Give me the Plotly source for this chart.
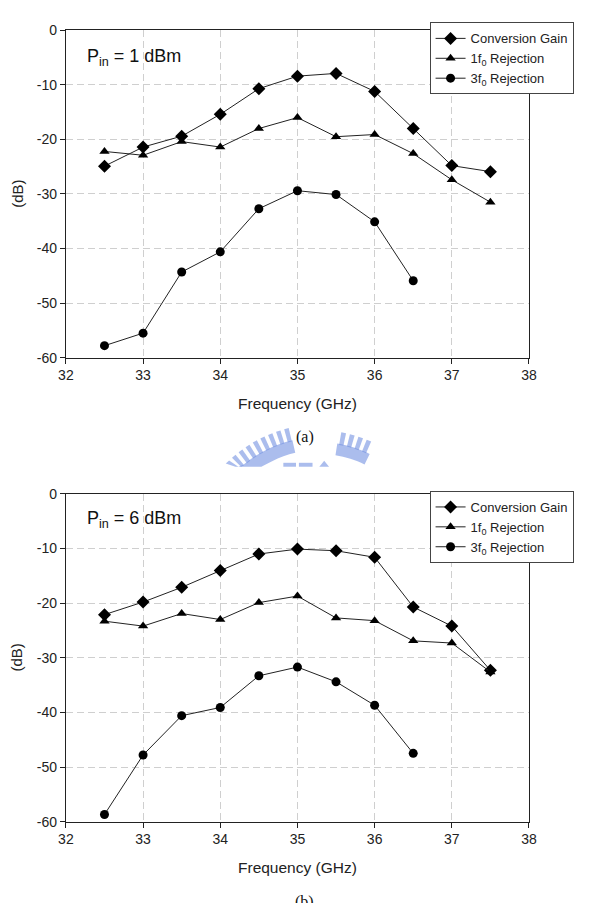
import math
import plotly.graph_objects as go

W, H = 591, 903

freq = [32.5, 33.0, 33.5, 34.0, 34.5, 35.0, 35.5, 36.0, 36.5, 37.0, 37.5]
freq_3f0 = [32.5, 33.0, 33.5, 34.0, 34.5, 35.0, 35.5, 36.0, 36.5]

# (a) Pin = 1 dBm
gain_a = [-24.9, -21.4, -19.4, -15.4, -10.7, -8.4, -7.9, -11.2, -18.0, -24.8, -25.9]
rej1_a = [-22.2, -22.9, -20.4, -21.4, -18.0, -16.0, -19.5, -19.1, -22.6, -27.4, -31.5]
rej3_a = [-57.8, -55.5, -44.3, -40.6, -32.7, -29.4, -30.1, -35.1, -45.9]

# (b) Pin = 6 dBm
gain_b = [-22.1, -19.8, -17.1, -14.0, -11.0, -10.1, -10.4, -11.6, -20.7, -24.2, -32.3]
rej1_b = [-23.3, -24.2, -21.9, -23.0, -19.9, -18.7, -22.7, -23.2, -26.9, -27.3, -32.6]
rej3_b = [-58.7, -47.8, -40.6, -39.1, -33.3, -31.7, -34.4, -38.7, -47.5]

names = ["Conversion Gain", "1f<sub>0</sub> Rejection", "3f<sub>0</sub> Rejection"]
symbols = ["diamond", "triangle-up", "circle"]
msizes = [10, 9, 9]
x_ticks = [32, 33, 34, 35, 36, 37, 38]
x_ticktext = ["32", "33", "34", "35", "36", "37", "38"]
y_ticks = [0, -10, -20, -30, -40, -50, -60]
y_ticktext = ["0", "-10", "-20", "-30", "-40", "-50", "-60"]


def px(x):
    return x / W


def py(y):
    return 1 - y / H


fig = go.Figure()

panels = [
    ("x", "y", "legend", [gain_a, rej1_a, rej3_a]),
    ("x2", "y2", "legend2", [gain_b, rej1_b, rej3_b]),
]
for xa, ya, lg, series in panels:
    for i, vals in enumerate(series):
        xs = freq if i < 2 else freq_3f0
        fig.add_trace(go.Scatter(
            x=xs, y=vals, name=names[i], mode="lines+markers",
            xaxis=xa, yaxis=ya, legend=lg,
            line=dict(color="#222222", width=1),
            marker=dict(symbol=symbols[i], size=msizes[i], color="black"),
        ))

font_main = "Liberation Sans, Arial, sans-serif"
axis_common = dict(
    showline=True, linecolor="#222222", linewidth=1, mirror=True,
    ticks="outside", ticklen=5, tickcolor="#222222",
    showgrid=True, gridcolor="#cfcfcf", griddash="7px,4px", gridwidth=1,
    zeroline=False, tickmode="array",
    tickfont=dict(family=font_main, size=14, color="#222222"),
)

xdom = [px(59.5), px(535.5)]
top_dom = [py(356), py(22.7)]
bot_dom = [py(828.3), py(494.7)]

xa_kw = dict(range=[32, 38], tickvals=x_ticks, ticktext=x_ticktext, **axis_common)
ya_kw = dict(range=[-60, 0], tickvals=y_ticks, ticktext=y_ticktext, **axis_common)
leg_kw = dict(
    xanchor="left", yanchor="top",
    bgcolor="white", bordercolor="#444444", borderwidth=1,
    font=dict(family=font_main, size=13, color="#222222"),
    tracegroupgap=0, itemwidth=30,
)

fig.update_layout(
    width=W, height=H,
    margin=dict(l=0, r=0, t=0, b=0),
    paper_bgcolor="white", plot_bgcolor="white",
    showlegend=True,
    xaxis=dict(domain=xdom, anchor="y", **xa_kw),
    yaxis=dict(domain=top_dom, anchor="x", **ya_kw),
    xaxis2=dict(domain=xdom, anchor="y2", **xa_kw),
    yaxis2=dict(domain=bot_dom, anchor="x2", **ya_kw),
    legend=dict(x=px(433.3), y=py(14.7), **leg_kw),
    legend2=dict(x=px(433.3), y=py(491.7), **leg_kw),
)

ann = []
for (ycen, label_y, pin, cap_y) in [
    (189.4, 403, "1", 50), (661.5, 875, "6", 521)
]:
    ann.append(dict(text="(dB)", x=px(9), y=py(ycen), xref="paper", yref="paper",
                    xanchor="center", yanchor="middle",
                    textangle=-90, showarrow=False,
                    font=dict(family=font_main, size=15, color="#222222")))
    ann.append(dict(text="Frequency (GHz)", x=px(297.5), y=py(label_y), xref="paper", yref="paper",
                    xanchor="center", yanchor="middle",
                    showarrow=False, font=dict(family=font_main, size=15.5, color="#222222")))
    ann.append(dict(text=f"P<sub>in</sub> = {pin} dBm", x=px(79), y=py(cap_y), xref="paper", yref="paper",
                    xanchor="left", yanchor="middle", showarrow=False,
                    font=dict(family=font_main, size=18, color="#111111")))
ann.append(dict(text="(a)", x=px(305), y=py(437), xref="paper", yref="paper", showarrow=False,
                xanchor="center", yanchor="middle",
                font=dict(family="Liberation Serif, Times New Roman, serif", size=16, color="#111111")))
ann.append(dict(text="(b)", x=px(305), y=py(910), xref="paper", yref="paper", showarrow=False,
                xanchor="center", yanchor="middle",
                font=dict(family="Liberation Serif, Times New Roman, serif", size=16, color="#111111")))
fig.update_layout(annotations=ann)

# faint watermark logo (decorative approximation), clipped at y = 467 px
shapes = []
wm = "rgba(115,145,225,0.6)"
cx, cy = 320, 560
YCLIP = 467


def poly(points):
    pts = [(x, min(y, YCLIP)) for x, y in points]
    return "M " + " L ".join(f"{px(x)},{py(y)}" for x, y in pts) + " Z"


def ring_seg(a0, a1, r0, r1, n=6):
    outer = [(cx + r1 * math.cos(math.radians(a0 + (a1 - a0) * t / n)),
              cy + r1 * math.sin(math.radians(a0 + (a1 - a0) * t / n))) for t in range(n + 1)]
    inner = [(cx + r0 * math.cos(math.radians(a1 - (a1 - a0) * t / n)),
              cy + r0 * math.sin(math.radians(a1 - (a1 - a0) * t / n))) for t in range(n + 1)]
    return outer + inner


# left arc: band + teeth
shapes.append(dict(type="path", path=poly(ring_seg(224, 257, 110, 123, 10)),
                   xref="paper", yref="paper", fillcolor=wm, line=dict(width=0), layer="below"))
for k in range(9):
    a = 225 + k * 3.7
    shapes.append(dict(type="path", path=poly(ring_seg(a, a + 2.0, 122, 136, 1)),
                       xref="paper", yref="paper", fillcolor=wm, line=dict(width=0), layer="below"))
# right arc
shapes.append(dict(type="path", path=poly(ring_seg(279, 296, 106, 118, 8)),
                   xref="paper", yref="paper", fillcolor=wm, line=dict(width=0), layer="below"))
for k in range(4):
    a = 280 + k * 4.0
    shapes.append(dict(type="path", path=poly(ring_seg(a, a + 2.2, 117, 130, 1)),
                       xref="paper", yref="paper", fillcolor=wm, line=dict(width=0), layer="below"))
# middle dashes and small triangle
for x0, x1 in [(283, 296), (299, 313)]:
    shapes.append(dict(type="rect", x0=px(x0), x1=px(x1), y0=py(467), y1=py(463),
                       xref="paper", yref="paper", fillcolor=wm, line=dict(width=0), layer="below"))
shapes.append(dict(type="path",
                   path=f"M {px(320)},{py(467)} L {px(325)},{py(461)} L {px(330)},{py(467)} Z",
                   xref="paper", yref="paper", fillcolor=wm, line=dict(width=0), layer="below"))
fig.update_layout(shapes=shapes)

fig.write_html("out.html")
